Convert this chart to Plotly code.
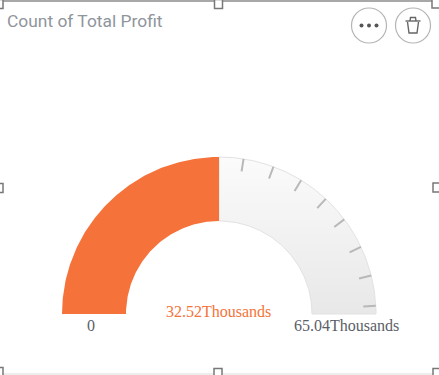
import numpy as np
import plotly.graph_objects as go

TITLE = "Count of Total Profit"
VALUE = 32.52
MAX_VALUE = 65.04
UNIT = "Thousands"
TICK_VALUES = [35.77, 39.85, 43.92, 48.0, 51.65, 55.9, 59.9, 63.95]

W, H = 439, 375
CX, CY, R = 219.0, 314.0, 157.0
INNER = 93 / 157


def arc(v0, v1, n=120):
    a = np.pi - np.linspace(v0, v1, n) / MAX_VALUE * np.pi
    xo, yo = np.cos(a), np.sin(a)
    x = np.concatenate([xo, xo[::-1] * INNER, xo[:1]])
    y = np.concatenate([yo, yo[::-1] * INNER, yo[:1]])
    return x, y


def px(x):
    return (x - CX) / R


def py(y):
    return (CY - y) / R


fig = go.Figure()

x, y = arc(VALUE, MAX_VALUE)
fig.add_trace(go.Scatter(
    x=x, y=y, mode="lines", fill="toself",
    line=dict(color="#e2e2e2", width=1),
    fillgradient=dict(type="vertical",
                      colorscale=[[0, "#e8e8e8"], [1, "#fbfbfb"]]),
    hoverinfo="skip", showlegend=False))

x, y = arc(0, VALUE)
fig.add_trace(go.Scatter(
    x=x, y=y, mode="lines", fill="toself",
    line=dict(color="#f5733a", width=0), fillcolor="#f5733a",
    hoverinfo="skip", showlegend=False))

tx, ty = [], []
for v in TICK_VALUES:
    a = np.pi - v / MAX_VALUE * np.pi
    tx += [np.cos(a), np.cos(a) * 0.92, None]
    ty += [np.sin(a), np.sin(a) * 0.92, None]
fig.add_trace(go.Scatter(x=tx, y=ty, mode="lines",
                         line=dict(color="#b8b8b8", width=2),
                         hoverinfo="skip", showlegend=False))

shapes = []
# selection frame
shapes.append(dict(type="line", xref="x", yref="y", x0=px(0), x1=px(439),
                   y0=py(1), y1=py(1), line=dict(color="#a8a8a8", width=2)))
shapes.append(dict(type="line", xref="x", yref="y", x0=px(0), x1=px(439),
                   y0=py(374), y1=py(374), line=dict(color="#dcdcdc", width=1)))
for hx, hy in [(-1, 4), (218.5, 4), (436, 3.5), (-1, 188), (437, 187.5),
               (-1, 372), (218, 373), (437, 373)]:
    shapes.append(dict(type="rect", xref="x", yref="y",
                       x0=px(hx - 4), x1=px(hx + 4), y0=py(hy - 4.5), y1=py(hy + 4.5),
                       line=dict(color="#787878", width=1.5), fillcolor="white"))
# toolbar buttons
for bx in (369, 413):
    shapes.append(dict(type="circle", xref="x", yref="y",
                       x0=px(bx - 17.5), x1=px(bx + 17.5), y0=py(25.5 - 17.5), y1=py(25.5 + 17.5),
                       line=dict(color="#b4b4b4", width=1.2), fillcolor="white"))
for dx in (361.5, 369, 376.5):
    shapes.append(dict(type="circle", xref="x", yref="y",
                       x0=px(dx - 2), x1=px(dx + 2), y0=py(25.5 - 2), y1=py(25.5 + 2),
                       line=dict(width=0), fillcolor="#555555"))
# trash can
shapes.append(dict(type="path", xref="x", yref="y",
                   path=f"M {px(407.5)} {py(22)} L {px(409)} {py(33)} L {px(417)} {py(33)} L {px(418.5)} {py(22)}",
                   line=dict(color="#666666", width=1.4)))
shapes.append(dict(type="line", xref="x", yref="y", x0=px(405.5), x1=px(420.5),
                   y0=py(21), y1=py(21), line=dict(color="#666666", width=1.4)))
shapes.append(dict(type="path", xref="x", yref="y",
                   path=f"M {px(410)} {py(21)} L {px(410.5)} {py(17.5)} L {px(415.5)} {py(17.5)} L {px(416)} {py(21)}",
                   line=dict(color="#666666", width=1.4)))

anns = [
    dict(x=px(4.5), y=py(20.5), text=TITLE, xanchor="left",
         font=dict(family="Roboto", size=17.4, color="#8f959c")),
    dict(x=px(91), y=py(325), text="0", xanchor="center",
         font=dict(family="Liberation Serif", size=16, color="#5a6068")),
    dict(x=px(218.5), y=py(311), text=f"{VALUE}{UNIT}", xanchor="center",
         font=dict(family="Liberation Serif", size=16, color="#f5733a")),
    dict(x=px(346.5), y=py(325), text=f"{MAX_VALUE}{UNIT}", xanchor="center",
         font=dict(family="Liberation Serif", size=16, color="#5a6068")),
]
for a in anns:
    a.update(xref="x", yref="y", showarrow=False, yanchor="middle")

fig.update_layout(
    width=W, height=H, margin=dict(l=0, r=0, t=0, b=0),
    paper_bgcolor="white", plot_bgcolor="white",
    xaxis=dict(range=[px(0), px(W)], visible=False, fixedrange=True),
    yaxis=dict(range=[py(H), py(0)], visible=False, fixedrange=True),
    shapes=shapes, annotations=anns, showlegend=False,
)
fig.write_html("out.html", config={"displayModeBar": False},
               post_script="document.body.style.margin='0';document.body.style.overflow='hidden';")
